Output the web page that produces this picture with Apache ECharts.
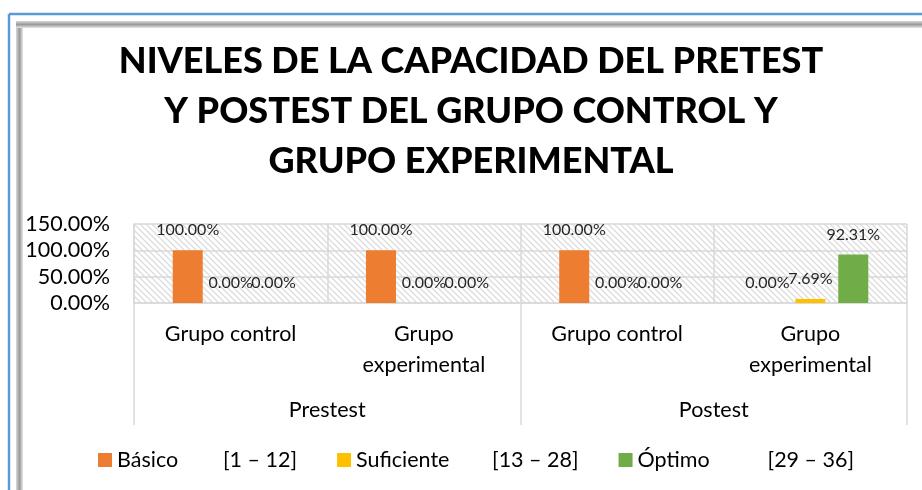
<!DOCTYPE html>
<html>
<head>
<meta charset="utf-8">
<script src="https://cdn.jsdelivr.net/npm/echarts@6/dist/echarts.min.js"></script>
<style>
  html, body { margin: 0; padding: 0; background: #fff; }
  #chart { width: 922px; height: 490px; }
</style>
</head>
<body>
<div id="chart"></div>
<script>
// datos
var grupos = ['Grupo control', 'Grupo\nexperimental', 'Grupo control', 'Grupo\nexperimental'];
var momentos = ['Prestest', 'Postest'];
var niveles = ['Básico', 'Suficiente', 'Óptimo'];
var rangos = ['[1 – 12]', '[13 – 28]', '[29 – 36]'];
var basico = [1, 1, 1, 0];
var suficiente = [0, 0, 0, 0.0769];
var optimo = [0, 0, 0, 0.9231];
var colores = ['#ED7D31', '#FFC000', '#70AD47'];

var FONT = 'Lato';
var FS = 21.5;

// trama diagonal del fondo del área de trazado
function hatch() {
  var c = document.createElement('canvas');
  c.width = 6; c.height = 6;
  var ctx = c.getContext('2d');
  ctx.fillStyle = '#ffffff';
  ctx.fillRect(0, 0, 6, 6);
  ctx.strokeStyle = '#dcdcdc';
  ctx.lineWidth = 1.3;
  ctx.beginPath();
  ctx.moveTo(-1, -1); ctx.lineTo(7, 7);
  ctx.moveTo(-4, 2); ctx.lineTo(4, 10);
  ctx.moveTo(2, -4); ctx.lineTo(10, 4);
  ctx.stroke();
  return c;
}

var chart = echarts.init(document.getElementById('chart'));

function pct(v) { return (v * 100).toFixed(2) + '%'; }

var datos = [basico, suficiente, optimo];
var series = niveles.map(function (n, i) {
  return {
    name: n,
    type: 'bar',
    data: datos[i],
    barWidth: 30,
    barGap: '43%',
    itemStyle: { color: colores[i] },
    label: {
      show: true,
      position: 'top',
      distance: 12,
      fontFamily: FONT,
      fontSize: 16,
      color: '#262626',
      formatter: function (p) { return pct(p.value); }
    }
  };
});

var anchos = [106, 136, 130];

var option = {
  animation: false,
  title: {
    text: 'NIVELES DE LA CAPACIDAD DEL PRETEST\nY POSTEST DEL GRUPO CONTROL Y\nGRUPO EXPERIMENTAL',
    left: 466,
    top: 31,
    textAlign: 'center',
    textStyle: {
      fontFamily: FONT,
      fontWeight: 900,
      fontSize: 36,
      lineHeight: 50,
      color: '#000'
    }
  },
  grid: {
    left: 134,
    right: 15,
    top: 224,
    height: 79,
    show: true,
    borderWidth: 0,
    backgroundColor: { image: hatch(), repeat: 'repeat' }
  },
  legend: {
    bottom: 14,
    left: 93,
    itemWidth: 14,
    itemHeight: 14,
    itemGap: 40,
    icon: 'rect',
    data: niveles,
    formatter: function (name) {
      var i = niveles.indexOf(name);
      return '{n' + i + '|' + name + '}{r|' + rangos[i] + '}';
    },
    textStyle: {
      fontFamily: FONT,
      fontSize: FS,
      color: '#000',
      rich: {
        n0: { width: anchos[0], fontFamily: FONT, fontSize: FS, color: '#000' },
        n1: { width: anchos[1], fontFamily: FONT, fontSize: FS, color: '#000' },
        n2: { width: anchos[2], fontFamily: FONT, fontSize: FS, color: '#000' },
        r: { fontFamily: FONT, fontSize: FS, color: '#000' }
      }
    }
  },
  xAxis: [
    {
      type: 'category',
      data: grupos,
      position: 'bottom',
      axisLine: { show: true, lineStyle: { color: '#d9d9d9', width: 1.5 } },
      axisTick: { show: false },
      splitLine: { show: true, lineStyle: { color: '#d9d9d9', width: 1.5 } },
      axisLabel: {
        margin: 16,
        fontFamily: FONT,
        fontSize: FS,
        lineHeight: 31,
        color: '#000',
        interval: 0
      }
    },
    {
      type: 'category',
      data: momentos,
      position: 'bottom',
      axisLine: { show: false },
      axisTick: { show: true, length: 122, lineStyle: { color: '#d9d9d9', width: 1.5 } },
      axisLabel: {
        margin: 96,
        fontFamily: FONT,
        fontSize: FS,
        color: '#000'
      }
    }
  ],
  yAxis: {
    type: 'value',
    min: 0,
    max: 1.5,
    interval: 0.5,
    axisLine: { show: true, lineStyle: { color: '#d9d9d9', width: 1.5 } },
    axisTick: { show: false },
    splitLine: { show: true, lineStyle: { color: '#d9d9d9', width: 1.5 } },
    axisLabel: {
      margin: 24,
      fontFamily: FONT,
      fontSize: FS,
      color: '#000',
      formatter: pct
    }
  },
  graphic: [
    // marco del gráfico
    { type: 'rect', shape: { x: 16, y: 21, width: 7, height: 469 }, style: { fill: new echarts.graphic.LinearGradient(0, 0, 1, 0, [{ offset: 0, color: '#d8d8d8' }, { offset: 0.5, color: '#9a9a9a' }, { offset: 1, color: '#e6e6e6' }]) }, silent: true },
    { type: 'rect', shape: { x: 16, y: 21, width: 906, height: 7 }, style: { fill: new echarts.graphic.LinearGradient(0, 0, 0, 1, [{ offset: 0, color: '#d8d8d8' }, { offset: 0.5, color: '#9a9a9a' }, { offset: 1, color: '#e6e6e6' }]) }, silent: true },
    { type: 'line', shape: { x1: 9, y1: 14, x2: 922, y2: 14 }, style: { stroke: '#5B9BD5', lineWidth: 2.5 }, silent: true },
    { type: 'line', shape: { x1: 9, y1: 14, x2: 9, y2: 490 }, style: { stroke: '#5B9BD5', lineWidth: 2.5 }, silent: true }
  ],
  series: series
};

chart.setOption(option);
</script>
</body>
</html>
